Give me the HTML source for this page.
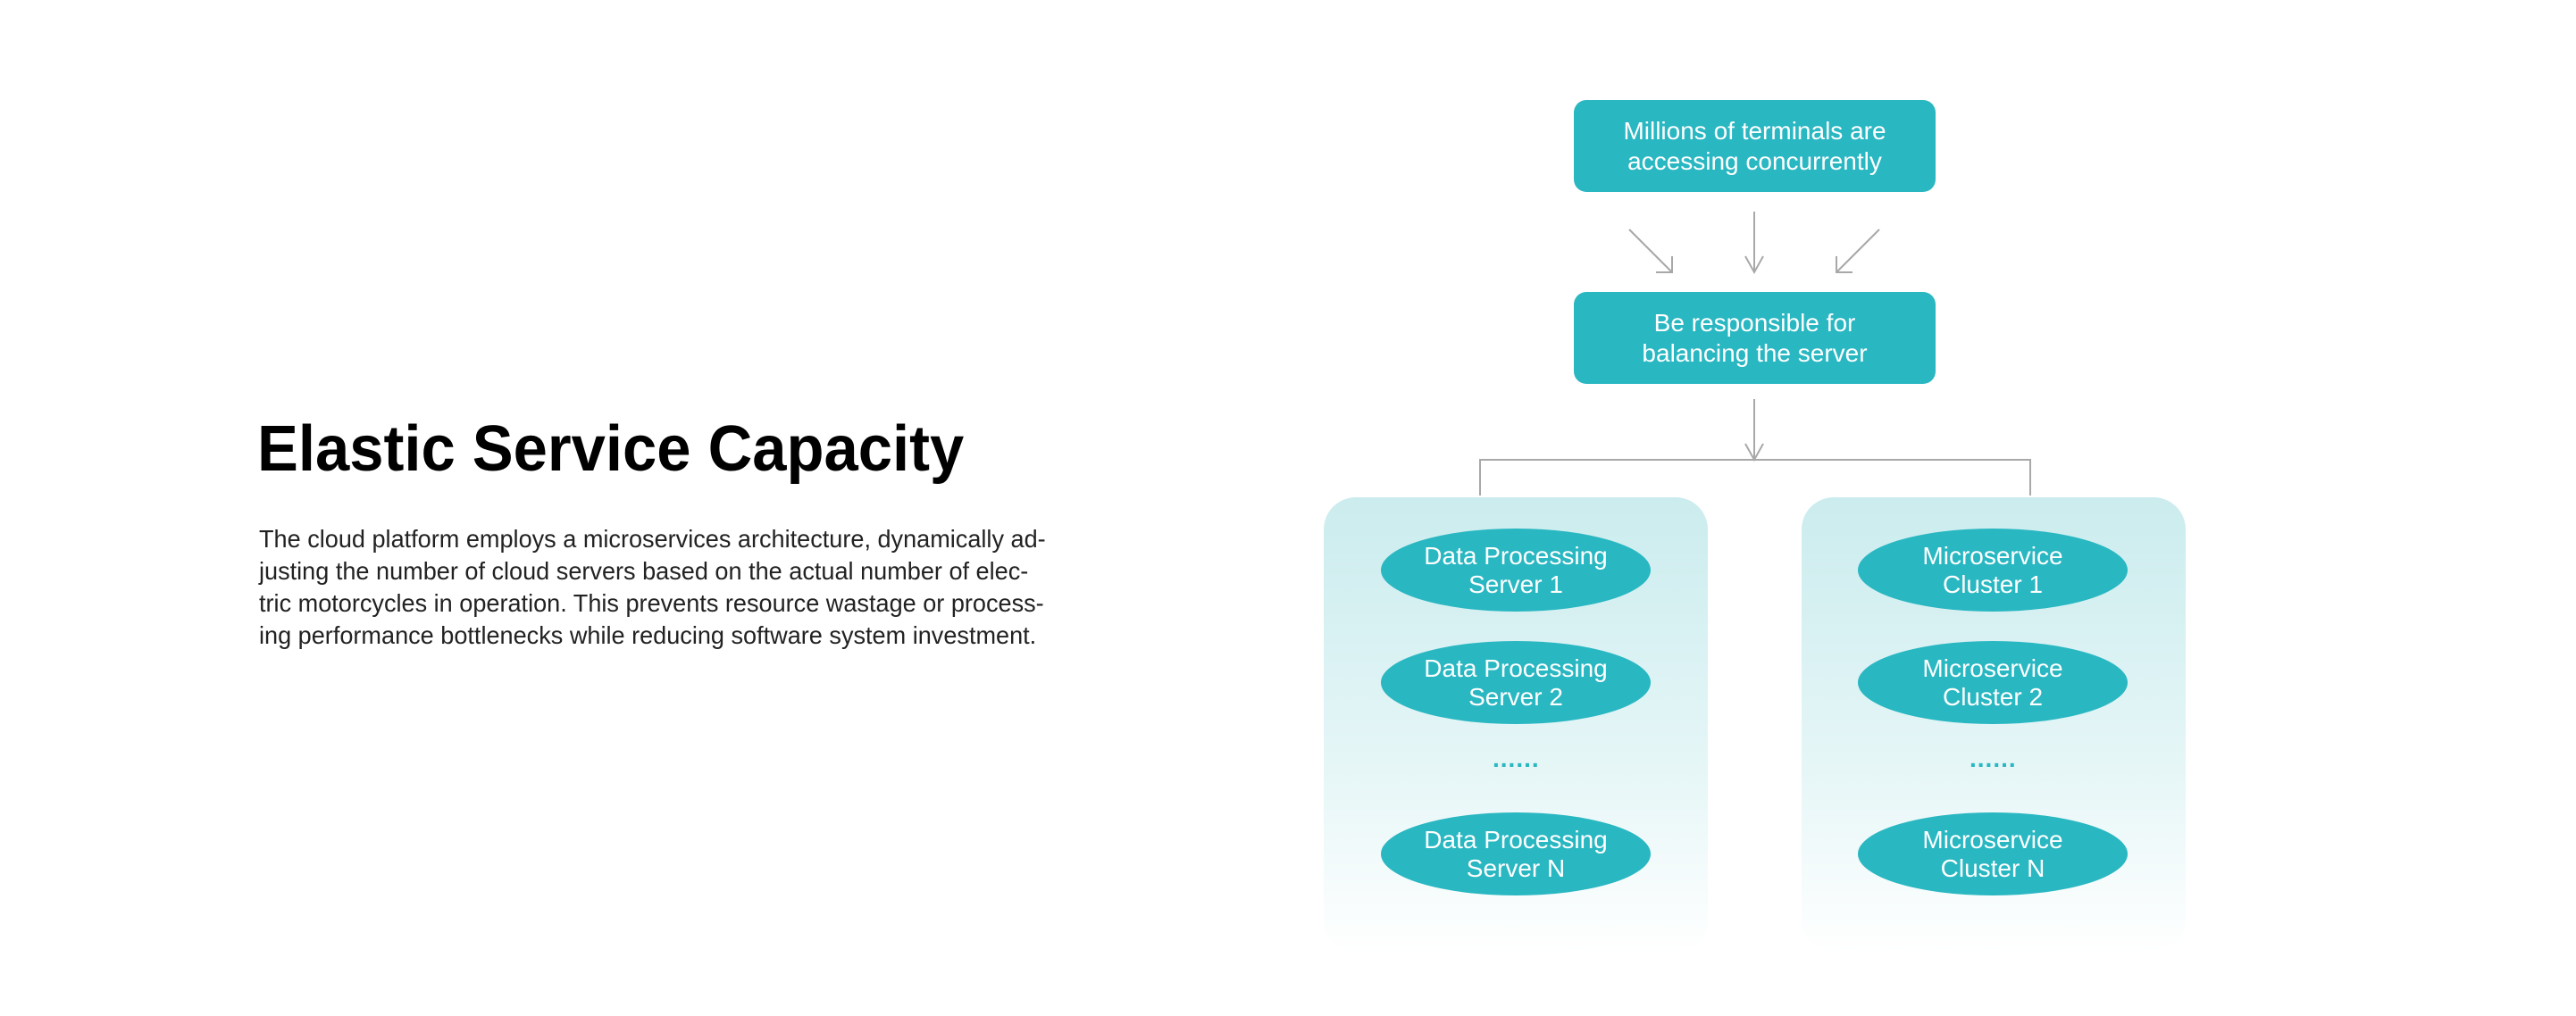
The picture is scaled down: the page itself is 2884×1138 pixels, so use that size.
<!DOCTYPE html>
<html><head><meta charset="utf-8"><style>
html,body{margin:0;padding:0;background:#fff;}
body{width:2884px;height:1138px;position:relative;overflow:hidden;font-family:"Liberation Sans","DejaVu Sans",sans-serif;}
.title{position:absolute;left:288px;top:462px;font-size:72px;font-weight:bold;color:#000;white-space:nowrap;transform:scaleX(0.955);transform-origin:left top;}
.para{position:absolute;left:290px;top:586px;font-size:27.5px;line-height:36px;color:#222;white-space:nowrap;transform:scaleX(0.985);transform-origin:left top;}
.box{position:absolute;left:1762px;width:405px;height:103px;background:#29b7c2;border-radius:14px;color:#fff;font-size:28px;line-height:34px;display:flex;align-items:center;justify-content:center;text-align:center;}
.cont{position:absolute;top:557px;width:430px;height:510px;border-radius:36px;background:linear-gradient(#cbecee 0%,#e6f6f7 60%,#fff 100%);}
.ell{position:absolute;width:302px;height:93px;border-radius:50%;background:#29b7c2;color:#fff;font-size:28px;line-height:32px;display:flex;align-items:center;justify-content:center;text-align:center;}
.dots{position:absolute;color:#29b7c2;font-size:28px;font-weight:bold;letter-spacing:1px;}
</style></head><body>
<div class="title">Elastic Service Capacity</div>
<div class="para">The cloud platform employs a microservices architecture, dynamically ad-<br>justing the number of cloud servers based on the actual number of elec-<br>tric motorcycles in operation. This prevents resource wastage or process-<br>ing performance bottlenecks while reducing software system investment.</div>

<div class="box" style="top:112px">Millions of terminals are<br>accessing concurrently</div>
<div class="box" style="top:327px">Be responsible for<br>balancing the server</div>

<svg width="2884" height="1138" style="position:absolute;left:0;top:0" fill="none" stroke="#a8a8a8" stroke-width="2">
<line x1="1964" y1="237" x2="1964" y2="305"/><polyline points="1954,287 1964,305 1974,287"/>
<line x1="1824" y1="257" x2="1872" y2="305"/><polyline points="1872,287 1872,305 1854,305"/>
<line x1="2104" y1="257" x2="2056" y2="305"/><polyline points="2056,287 2056,305 2074,305"/>
<line x1="1964" y1="447" x2="1964" y2="515"/><polyline points="1954,497 1964,515 1974,497"/>
<polyline points="1657,555 1657,515 2273,515 2273,555"/>
</svg>

<div class="cont" style="left:1482px"></div>
<div class="cont" style="left:2017px"></div>

<div class="ell" style="left:1546px;top:592px">Data Processing<br>Server 1</div>
<div class="ell" style="left:1546px;top:718px">Data Processing<br>Server 2</div>
<div class="dots" style="left:1671px;top:834px">......</div>
<div class="ell" style="left:1546px;top:910px">Data Processing<br>Server N</div>

<div class="ell" style="left:2080px;top:592px">Microservice<br>Cluster 1</div>
<div class="ell" style="left:2080px;top:718px">Microservice<br>Cluster 2</div>
<div class="dots" style="left:2205px;top:834px">......</div>
<div class="ell" style="left:2080px;top:910px">Microservice<br>Cluster N</div>
</body></html>
